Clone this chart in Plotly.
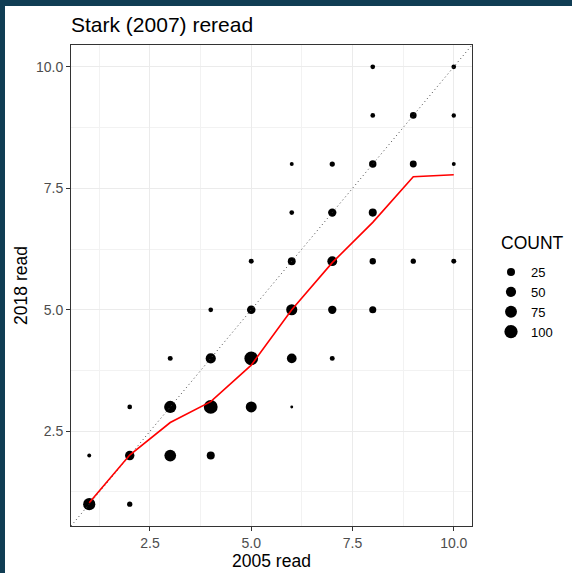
import numpy as np
import plotly.graph_objects as go

# ---- data ----
read_2005 = [8, 10,
             8, 9, 10,
             6, 7, 8, 9, 10,
             6, 7, 8,
             5, 6, 7, 8, 9, 10,
             4, 5, 6, 7, 8,
             3, 4, 5, 6, 7,
             2, 3, 4, 5, 6,
             1, 2, 3, 4,
             1, 2]
read_2018 = [10, 10,
             9, 9, 9,
             8, 8, 8, 8, 8,
             7, 7, 7,
             6, 6, 6, 6, 6, 6,
             5, 5, 5, 5, 5,
             4, 4, 4, 4, 4,
             3, 3, 3, 3, 3,
             2, 2, 2, 2,
             1, 1]
counts = [4, 4,
          4, 14, 3,
          2, 6, 20, 16, 2,
          4, 28, 25,
          5, 24, 45, 12, 6, 5,
          4, 30, 63, 28, 17,
          5, 50, 108, 44, 5,
          4, 80, 110, 61, 1,
          2, 40, 72, 25,
          80, 6]

trend_x = [1, 2, 3, 4, 5, 6, 7, 8, 9, 10]
trend_y = [1.03, 2.01, 2.68, 3.11, 3.86, 5.0, 5.97, 6.80, 7.74, 7.78]

legend_breaks = [25, 50, 75, 100]
tick_vals = [2.5, 5.0, 7.5, 10.0]
minor_vals = [1.25, 3.75, 6.25, 8.75]
axis_range = [0.55, 10.45]

# ---- size scale (ggplot-like area scale) ----
cmin, cmax = min(counts), max(counts)


def diam(c):
    s = 1 + 5 * np.sqrt((np.asarray(c, float) - cmin) / (cmax - cmin))
    return 0.766 * (2.845 * s + 0.94)


FONT = "Liberation Sans, Arial, sans-serif"
W, H = 572, 573
ML, MR, MT, MB = 71, 100, 45, 47
PW, PH = W - ML - MR, H - MT - MB

fig = go.Figure()

fig.add_trace(go.Scatter(
    x=read_2005, y=read_2018, mode="markers",
    marker=dict(size=diam(counts), color="black", opacity=1, line=dict(width=0)),
    showlegend=False, hoverinfo="x+y+text", text=[f"COUNT {c}" for c in counts]))

# legend entries
for b in legend_breaks:
    fig.add_trace(go.Scatter(
        x=[None], y=[None], mode="markers", name=str(b),
        marker=dict(size=float(diam(b)), color="black", opacity=1, line=dict(width=0)),
        showlegend=True))

# identity line
fig.add_trace(go.Scatter(
    x=axis_range, y=axis_range, mode="lines",
    line=dict(color="#444444", width=1, dash="1px,3px"),
    showlegend=False, hoverinfo="skip"))

# trend line
fig.add_trace(go.Scatter(
    x=trend_x, y=trend_y, mode="lines",
    line=dict(color="red", width=1.6),
    showlegend=False))

axis_common = dict(
    range=axis_range, tickvals=tick_vals, tickformat=".1f", automargin=False,
    showgrid=True, gridcolor="#ebebeb", gridwidth=1.1,
    zeroline=False, showline=True, mirror=True, linecolor="#333333", linewidth=1,
    ticks="outside", ticklen=4, tickwidth=1, tickcolor="#333333",
    tickfont=dict(family=FONT, size=14, color="#4d4d4d"),
    minor=dict(tickvals=minor_vals, showgrid=True, gridcolor="#f2f2f2", gridwidth=0.6, ticks=""),
)

fig.update_layout(
    width=W, height=H,
    margin=dict(l=ML, r=MR, t=MT, b=MB, autoexpand=False),
    paper_bgcolor="white", plot_bgcolor="white",
    font=dict(family=FONT, color="black"),
    title=dict(text="Stark (2007) reread", x=ML / W, xanchor="left", xref="container",
               y=1 - 25 / H, yanchor="middle", yref="container",
               font=dict(family=FONT, size=21, color="black")),
    xaxis=dict(**axis_common, title=dict(text="2005 read", standoff=4,
                                         font=dict(family=FONT, size=17.5, color="black"))),
    yaxis=dict(**axis_common, title=dict(text="2018 read", standoff=3,
                                         font=dict(family=FONT, size=17.5, color="black"))),
    legend=dict(x=(491 - ML) / PW, xanchor="left", y=1 - (257 - MT) / PH,
                yanchor="top", font=dict(family=FONT, size=13, color="black"),
                bgcolor="rgba(0,0,0,0)", itemsizing="trace", tracegroupgap=0),
    annotations=[
        dict(text="COUNT", xref="paper", yref="paper", x=(499 - ML) / PW, y=1 - (243 - MT) / PH,
             xanchor="left", yanchor="middle", showarrow=False,
             font=dict(family=FONT, size=17.5, color="black")),
    ],
    shapes=[
        dict(type="rect", xref="paper", yref="paper",
             x0=-ML / PW, x1=(W - ML) / PW, y0=1 + (MT - 6) / PH, y1=1 + MT / PH,
             fillcolor="#103d54", line=dict(width=0), layer="above"),
        dict(type="rect", xref="paper", yref="paper",
             x0=-ML / PW, x1=(5 - ML) / PW, y0=-MB / PH, y1=1 + MT / PH,
             fillcolor="#103d54", line=dict(width=0), layer="above"),
    ],
)

fig.write_html("out.html")
